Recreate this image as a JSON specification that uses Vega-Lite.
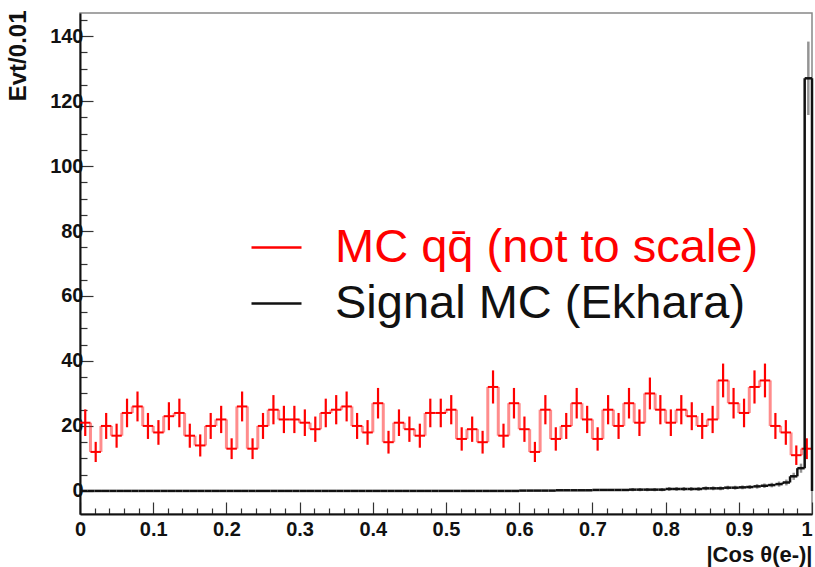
{
  "$schema": "https://vega.github.io/schema/vega-lite/v6.json",
  "width": 732,
  "height": 501,
  "autosize": "none",
  "padding": {"left": 80, "top": 13, "right": 3, "bottom": 53},
  "background": "white",
  "config": {
    "view": {"stroke": "#888888", "strokeWidth": 1.5},
    "font": "Liberation Sans"
  },
  "datasets": {
    "qq": [
      {"x0": 0, "x1": 0.0143, "n": 21, "err": 4.1},
      {"x0": 0.0143, "x1": 0.0286, "n": 12, "err": 3.1},
      {"x0": 0.0286, "x1": 0.0429, "n": 20, "err": 4.0},
      {"x0": 0.0429, "x1": 0.0571, "n": 17, "err": 3.7},
      {"x0": 0.0571, "x1": 0.0714, "n": 24, "err": 4.4},
      {"x0": 0.0714, "x1": 0.0857, "n": 26, "err": 4.6},
      {"x0": 0.0857, "x1": 0.1, "n": 20, "err": 4.0},
      {"x0": 0.1, "x1": 0.1143, "n": 18, "err": 3.8},
      {"x0": 0.1143, "x1": 0.1286, "n": 23, "err": 4.3},
      {"x0": 0.1286, "x1": 0.1429, "n": 24, "err": 4.4},
      {"x0": 0.1429, "x1": 0.1571, "n": 17, "err": 3.7},
      {"x0": 0.1571, "x1": 0.1714, "n": 14, "err": 3.4},
      {"x0": 0.1714, "x1": 0.1857, "n": 20, "err": 4.0},
      {"x0": 0.1857, "x1": 0.2, "n": 22, "err": 4.2},
      {"x0": 0.2, "x1": 0.2143, "n": 13, "err": 3.2},
      {"x0": 0.2143, "x1": 0.2286, "n": 26, "err": 4.6},
      {"x0": 0.2286, "x1": 0.2429, "n": 13, "err": 3.2},
      {"x0": 0.2429, "x1": 0.2571, "n": 20, "err": 4.0},
      {"x0": 0.2571, "x1": 0.2714, "n": 25, "err": 4.5},
      {"x0": 0.2714, "x1": 0.2857, "n": 22, "err": 4.2},
      {"x0": 0.2857, "x1": 0.3, "n": 22, "err": 4.2},
      {"x0": 0.3, "x1": 0.3143, "n": 21, "err": 4.1},
      {"x0": 0.3143, "x1": 0.3286, "n": 19, "err": 3.9},
      {"x0": 0.3286, "x1": 0.3429, "n": 24, "err": 4.4},
      {"x0": 0.3429, "x1": 0.3571, "n": 25, "err": 4.5},
      {"x0": 0.3571, "x1": 0.3714, "n": 26, "err": 4.6},
      {"x0": 0.3714, "x1": 0.3857, "n": 20, "err": 4.0},
      {"x0": 0.3857, "x1": 0.4, "n": 18, "err": 3.8},
      {"x0": 0.4, "x1": 0.4143, "n": 27, "err": 4.7},
      {"x0": 0.4143, "x1": 0.4286, "n": 15, "err": 3.5},
      {"x0": 0.4286, "x1": 0.4429, "n": 21, "err": 4.1},
      {"x0": 0.4429, "x1": 0.4571, "n": 19, "err": 3.9},
      {"x0": 0.4571, "x1": 0.4714, "n": 17, "err": 3.7},
      {"x0": 0.4714, "x1": 0.4857, "n": 24, "err": 4.4},
      {"x0": 0.4857, "x1": 0.5, "n": 24, "err": 4.4},
      {"x0": 0.5, "x1": 0.5143, "n": 25, "err": 4.5},
      {"x0": 0.5143, "x1": 0.5286, "n": 16, "err": 3.6},
      {"x0": 0.5286, "x1": 0.5429, "n": 19, "err": 3.9},
      {"x0": 0.5429, "x1": 0.5571, "n": 15, "err": 3.5},
      {"x0": 0.5571, "x1": 0.5714, "n": 32, "err": 5.1},
      {"x0": 0.5714, "x1": 0.5857, "n": 17, "err": 3.7},
      {"x0": 0.5857, "x1": 0.6, "n": 27, "err": 4.7},
      {"x0": 0.6, "x1": 0.6143, "n": 19, "err": 3.9},
      {"x0": 0.6143, "x1": 0.6286, "n": 12, "err": 3.1},
      {"x0": 0.6286, "x1": 0.6429, "n": 25, "err": 4.5},
      {"x0": 0.6429, "x1": 0.6571, "n": 16, "err": 3.6},
      {"x0": 0.6571, "x1": 0.6714, "n": 20, "err": 4.0},
      {"x0": 0.6714, "x1": 0.6857, "n": 27, "err": 4.7},
      {"x0": 0.6857, "x1": 0.7, "n": 22, "err": 4.2},
      {"x0": 0.7, "x1": 0.7143, "n": 16, "err": 3.6},
      {"x0": 0.7143, "x1": 0.7286, "n": 25, "err": 4.5},
      {"x0": 0.7286, "x1": 0.7429, "n": 20, "err": 4.0},
      {"x0": 0.7429, "x1": 0.7571, "n": 27, "err": 4.7},
      {"x0": 0.7571, "x1": 0.7714, "n": 21, "err": 4.1},
      {"x0": 0.7714, "x1": 0.7857, "n": 30, "err": 4.9},
      {"x0": 0.7857, "x1": 0.8, "n": 25, "err": 4.5},
      {"x0": 0.8, "x1": 0.8143, "n": 21, "err": 4.1},
      {"x0": 0.8143, "x1": 0.8286, "n": 25, "err": 4.5},
      {"x0": 0.8286, "x1": 0.8429, "n": 23, "err": 4.3},
      {"x0": 0.8429, "x1": 0.8571, "n": 20, "err": 4.0},
      {"x0": 0.8571, "x1": 0.8714, "n": 22, "err": 4.2},
      {"x0": 0.8714, "x1": 0.8857, "n": 34, "err": 5.2},
      {"x0": 0.8857, "x1": 0.9, "n": 27, "err": 4.7},
      {"x0": 0.9, "x1": 0.9143, "n": 24, "err": 4.4},
      {"x0": 0.9143, "x1": 0.9286, "n": 32, "err": 5.1},
      {"x0": 0.9286, "x1": 0.9429, "n": 34, "err": 5.2},
      {"x0": 0.9429, "x1": 0.9571, "n": 20, "err": 4.0},
      {"x0": 0.9571, "x1": 0.9714, "n": 18, "err": 3.8},
      {"x0": 0.9714, "x1": 0.9857, "n": 11, "err": 3.0},
      {"x0": 0.9857, "x1": 1, "n": 13, "err": 3.2}
    ],
    "sig": [
      {"x0": 0.00, "x1": 0.01, "n": 0, "err": 0},
      {"x0": 0.01, "x1": 0.02, "n": 0, "err": 0},
      {"x0": 0.02, "x1": 0.03, "n": 0, "err": 0},
      {"x0": 0.03, "x1": 0.04, "n": 0, "err": 0},
      {"x0": 0.04, "x1": 0.05, "n": 0, "err": 0},
      {"x0": 0.05, "x1": 0.06, "n": 0, "err": 0},
      {"x0": 0.06, "x1": 0.07, "n": 0, "err": 0},
      {"x0": 0.07, "x1": 0.08, "n": 0, "err": 0},
      {"x0": 0.08, "x1": 0.09, "n": 0, "err": 0},
      {"x0": 0.09, "x1": 0.10, "n": 0, "err": 0},
      {"x0": 0.10, "x1": 0.11, "n": 0, "err": 0},
      {"x0": 0.11, "x1": 0.12, "n": 0, "err": 0},
      {"x0": 0.12, "x1": 0.13, "n": 0, "err": 0},
      {"x0": 0.13, "x1": 0.14, "n": 0, "err": 0},
      {"x0": 0.14, "x1": 0.15, "n": 0, "err": 0},
      {"x0": 0.15, "x1": 0.16, "n": 0, "err": 0},
      {"x0": 0.16, "x1": 0.17, "n": 0, "err": 0},
      {"x0": 0.17, "x1": 0.18, "n": 0, "err": 0},
      {"x0": 0.18, "x1": 0.19, "n": 0, "err": 0},
      {"x0": 0.19, "x1": 0.20, "n": 0, "err": 0},
      {"x0": 0.20, "x1": 0.21, "n": 0, "err": 0},
      {"x0": 0.21, "x1": 0.22, "n": 0, "err": 0},
      {"x0": 0.22, "x1": 0.23, "n": 0, "err": 0},
      {"x0": 0.23, "x1": 0.24, "n": 0, "err": 0},
      {"x0": 0.24, "x1": 0.25, "n": 0, "err": 0},
      {"x0": 0.25, "x1": 0.26, "n": 0, "err": 0},
      {"x0": 0.26, "x1": 0.27, "n": 0, "err": 0},
      {"x0": 0.27, "x1": 0.28, "n": 0, "err": 0},
      {"x0": 0.28, "x1": 0.29, "n": 0, "err": 0},
      {"x0": 0.29, "x1": 0.30, "n": 0, "err": 0},
      {"x0": 0.30, "x1": 0.31, "n": 0, "err": 0},
      {"x0": 0.31, "x1": 0.32, "n": 0, "err": 0},
      {"x0": 0.32, "x1": 0.33, "n": 0, "err": 0},
      {"x0": 0.33, "x1": 0.34, "n": 0, "err": 0},
      {"x0": 0.34, "x1": 0.35, "n": 0, "err": 0},
      {"x0": 0.35, "x1": 0.36, "n": 0, "err": 0},
      {"x0": 0.36, "x1": 0.37, "n": 0, "err": 0},
      {"x0": 0.37, "x1": 0.38, "n": 0, "err": 0},
      {"x0": 0.38, "x1": 0.39, "n": 0, "err": 0},
      {"x0": 0.39, "x1": 0.40, "n": 0, "err": 0},
      {"x0": 0.40, "x1": 0.41, "n": 0, "err": 0},
      {"x0": 0.41, "x1": 0.42, "n": 0, "err": 0},
      {"x0": 0.42, "x1": 0.43, "n": 0, "err": 0},
      {"x0": 0.43, "x1": 0.44, "n": 0, "err": 0},
      {"x0": 0.44, "x1": 0.45, "n": 0, "err": 0},
      {"x0": 0.45, "x1": 0.46, "n": 0, "err": 0},
      {"x0": 0.46, "x1": 0.47, "n": 0, "err": 0},
      {"x0": 0.47, "x1": 0.48, "n": 0, "err": 0},
      {"x0": 0.48, "x1": 0.49, "n": 0, "err": 0},
      {"x0": 0.49, "x1": 0.50, "n": 0, "err": 0},
      {"x0": 0.50, "x1": 0.51, "n": 0, "err": 0},
      {"x0": 0.51, "x1": 0.52, "n": 0, "err": 0},
      {"x0": 0.52, "x1": 0.53, "n": 0, "err": 0},
      {"x0": 0.53, "x1": 0.54, "n": 0, "err": 0},
      {"x0": 0.54, "x1": 0.55, "n": 0, "err": 0},
      {"x0": 0.55, "x1": 0.56, "n": 0, "err": 0},
      {"x0": 0.56, "x1": 0.57, "n": 0, "err": 0},
      {"x0": 0.57, "x1": 0.58, "n": 0, "err": 0},
      {"x0": 0.58, "x1": 0.59, "n": 0, "err": 0},
      {"x0": 0.59, "x1": 0.60, "n": 0, "err": 0},
      {"x0": 0.60, "x1": 0.61, "n": 0.1, "err": 0},
      {"x0": 0.61, "x1": 0.62, "n": 0.1, "err": 0},
      {"x0": 0.62, "x1": 0.63, "n": 0.1, "err": 0},
      {"x0": 0.63, "x1": 0.64, "n": 0.1, "err": 0},
      {"x0": 0.64, "x1": 0.65, "n": 0.1, "err": 0},
      {"x0": 0.65, "x1": 0.66, "n": 0.2, "err": 0},
      {"x0": 0.66, "x1": 0.67, "n": 0.2, "err": 0},
      {"x0": 0.67, "x1": 0.68, "n": 0.2, "err": 0},
      {"x0": 0.68, "x1": 0.69, "n": 0.2, "err": 0},
      {"x0": 0.69, "x1": 0.70, "n": 0.2, "err": 0},
      {"x0": 0.70, "x1": 0.71, "n": 0.3, "err": 0},
      {"x0": 0.71, "x1": 0.72, "n": 0.3, "err": 0},
      {"x0": 0.72, "x1": 0.73, "n": 0.3, "err": 0},
      {"x0": 0.73, "x1": 0.74, "n": 0.3, "err": 0},
      {"x0": 0.74, "x1": 0.75, "n": 0.3, "err": 0},
      {"x0": 0.75, "x1": 0.76, "n": 0.4, "err": 0.5},
      {"x0": 0.76, "x1": 0.77, "n": 0.4, "err": 0.5},
      {"x0": 0.77, "x1": 0.78, "n": 0.4, "err": 0.5},
      {"x0": 0.78, "x1": 0.79, "n": 0.4, "err": 0.5},
      {"x0": 0.79, "x1": 0.80, "n": 0.4, "err": 0.5},
      {"x0": 0.80, "x1": 0.81, "n": 0.6, "err": 0.6},
      {"x0": 0.81, "x1": 0.82, "n": 0.6, "err": 0.6},
      {"x0": 0.82, "x1": 0.83, "n": 0.6, "err": 0.6},
      {"x0": 0.83, "x1": 0.84, "n": 0.6, "err": 0.6},
      {"x0": 0.84, "x1": 0.85, "n": 0.6, "err": 0.6},
      {"x0": 0.85, "x1": 0.86, "n": 0.8, "err": 0.6},
      {"x0": 0.86, "x1": 0.87, "n": 0.8, "err": 0.6},
      {"x0": 0.87, "x1": 0.88, "n": 0.8, "err": 0.6},
      {"x0": 0.88, "x1": 0.89, "n": 1.0, "err": 0.6},
      {"x0": 0.89, "x1": 0.90, "n": 1.0, "err": 0.6},
      {"x0": 0.90, "x1": 0.91, "n": 1.1, "err": 0.6},
      {"x0": 0.91, "x1": 0.92, "n": 1.2, "err": 0.6},
      {"x0": 0.92, "x1": 0.93, "n": 1.4, "err": 0.7},
      {"x0": 0.93, "x1": 0.94, "n": 1.6, "err": 0.7},
      {"x0": 0.94, "x1": 0.95, "n": 1.8, "err": 0.7},
      {"x0": 0.95, "x1": 0.96, "n": 2.1, "err": 0.8},
      {"x0": 0.96, "x1": 0.97, "n": 2.6, "err": 0.9},
      {"x0": 0.97, "x1": 0.98, "n": 4.5, "err": 1.1},
      {"x0": 0.98, "x1": 0.99, "n": 7, "err": 1.4},
      {"x0": 0.99, "x1": 1.00, "n": 127, "err": 11.3}
    ]
  },
  "encoding": {
    "x": {
      "type": "quantitative",
      "scale": {"domain": [0, 1], "nice": false, "zero": false},
      "axis": {
        "values": [0, 0.02, 0.04, 0.06, 0.08, 0.1, 0.12, 0.14, 0.16, 0.18, 0.2, 0.22, 0.24, 0.26, 0.28, 0.3, 0.32, 0.34, 0.36, 0.38, 0.4, 0.42, 0.44, 0.46, 0.48, 0.5, 0.52, 0.54, 0.56, 0.58, 0.6, 0.62, 0.64, 0.66, 0.68, 0.7, 0.72, 0.74, 0.76, 0.78, 0.8, 0.82, 0.84, 0.86, 0.88, 0.9, 0.92, 0.94, 0.96, 0.98, 1],
        "labelExpr": "abs(datum.value * 10 - round(datum.value * 10)) < 0.001 ? format(round(datum.value * 10) / 10, '~g') : ''",
        "tickSize": {"condition": {"test": "abs(datum.value * 10 - round(datum.value * 10)) < 0.001", "value": -12}, "value": -6},
        "tickColor": "#333333",
        "tickWidth": 1.2,
        "domainColor": "#111111",
        "domainWidth": 2,
        "grid": false,
        "labelFont": "Liberation Sans",
        "labelFontSize": 20,
        "labelFontWeight": "bold",
        "labelColor": "#111111",
        "labelPadding": 17,
        "labelAlign": {"condition": {"test": "datum.value == 1", "value": "right"}, "value": "center"},
        "labelFlush": false,
        "labelOverlap": false,
        "title": "|Cos θ(e-)|",
        "titleFont": "Liberation Sans",
        "titleFontSize": 22,
        "titleFontWeight": "bold",
        "titleColor": "#111111",
        "titleX": 732,
        "titleY": 40,
        "titleAlign": "right",
        "titleBaseline": "middle"
      }
    },
    "y": {
      "type": "quantitative",
      "scale": {"domain": [-7.1, 147.1], "nice": false, "zero": false},
      "axis": {
        "values": [0, 5, 10, 15, 20, 25, 30, 35, 40, 45, 50, 55, 60, 65, 70, 75, 80, 85, 90, 95, 100, 105, 110, 115, 120, 125, 130, 135, 140, 145],
        "labelExpr": "datum.value % 20 == 0 ? datum.value : ''",
        "tickSize": {"condition": {"test": "datum.value % 20 == 0", "value": -13}, "value": -7},
        "tickColor": "#333333",
        "tickWidth": 1.2,
        "domainColor": "#111111",
        "domainWidth": 2,
        "grid": false,
        "labelFont": "Liberation Sans",
        "labelFontSize": 20,
        "labelFontWeight": "bold",
        "labelColor": "#111111",
        "labelPadding": 10,
        "labelOverlap": false,
        "title": "Evt/0.01",
        "titleFont": "Liberation Sans",
        "titleFontSize": 24,
        "titleFontWeight": "bold",
        "titleColor": "#111111",
        "titleAngle": 270,
        "titleX": -62,
        "titleY": -3,
        "titleAlign": "right",
        "titleBaseline": "middle"
      }
    }
  },
  "layer": [
    {
      "data": {"name": "qq"},
      "transform": [
        {"window": [{"op": "lag", "field": "n", "as": "prev"}], "sort": [{"field": "x0"}]},
        {"filter": "datum.prev != null"}
      ],
      "mark": {"type": "rule", "strokeWidth": 3, "opacity": 0.45},
      "encoding": {
        "x": {"field": "x0"},
        "y": {"field": "prev"},
        "y2": {"field": "n"},
        "color": {"datum": "MC qq̄ (not to scale)"}
      }
    },
    {
      "data": {"name": "qq"},
      "mark": {"type": "rule", "strokeWidth": 2},
      "encoding": {
        "x": {"field": "x0"},
        "x2": {"field": "x1"},
        "y": {"field": "n"},
        "color": {
          "datum": "MC qq̄ (not to scale)",
          "scale": {"domain": ["MC qq̄ (not to scale)", "Signal MC (Ekhara)"], "range": ["#ff0000", "#111111"]},
          "legend": {
            "orient": "none",
            "legendX": 170,
            "legendY": 208,
            "title": null,
            "symbolType": "stroke",
            "symbolSize": 2500,
            "symbolStrokeWidth": 2.5,
            "labelFont": "Liberation Sans",
            "labelFontSize": 47,
            "labelLimit": 0,
            "labelOffset": 32,
            "rowPadding": 6,
            "encode": {"labels": {"update": {"fill": {"scale": "color", "field": "value"}}}}
          }
        }
      }
    },
    {
      "data": {"name": "qq"},
      "transform": [
        {"calculate": "(datum.x0 + datum.x1) / 2", "as": "xc"},
        {"calculate": "datum.n - datum.err", "as": "lo"},
        {"calculate": "datum.n + datum.err", "as": "hi"}
      ],
      "mark": {"type": "rule", "strokeWidth": 2.2},
      "encoding": {
        "x": {"field": "xc"},
        "y": {"field": "lo"},
        "y2": {"field": "hi"},
        "color": {"datum": "MC qq̄ (not to scale)"}
      }
    },
    {
      "data": {"name": "sig"},
      "transform": [
        {"filter": "datum.err > 0"},
        {"calculate": "(datum.x0 + datum.x1) / 2", "as": "xc"},
        {"calculate": "datum.n - datum.err", "as": "lo"},
        {"calculate": "datum.n + datum.err", "as": "hi"}
      ],
      "mark": {"type": "rule", "strokeWidth": 2.5, "opacity": 0.45},
      "encoding": {
        "x": {"field": "xc"},
        "y": {"field": "lo"},
        "y2": {"field": "hi"},
        "color": {"datum": "Signal MC (Ekhara)"}
      }
    },
    {
      "data": {"name": "sig"},
      "transform": [
        {"window": [{"op": "lag", "field": "n", "as": "prev"}], "sort": [{"field": "x0"}]},
        {"filter": "datum.prev != null"}
      ],
      "mark": {"type": "rule", "strokeWidth": 2.5},
      "encoding": {
        "x": {"field": "x0"},
        "y": {"field": "prev"},
        "y2": {"field": "n"},
        "color": {"datum": "Signal MC (Ekhara)"}
      }
    },
    {
      "data": {"name": "sig"},
      "transform": [
        {"window": [{"op": "lead", "field": "n", "as": "next"}], "sort": [{"field": "x0"}]},
        {"filter": "datum.next == null"}
      ],
      "mark": {"type": "rule", "strokeWidth": 2.5},
      "encoding": {
        "x": {"field": "x1"},
        "y": {"field": "n"},
        "y2": {"datum": 0},
        "color": {"datum": "Signal MC (Ekhara)"}
      }
    },
    {
      "data": {"name": "sig"},
      "mark": {"type": "rule", "strokeWidth": 2.5},
      "encoding": {
        "x": {"field": "x0"},
        "x2": {"field": "x1"},
        "y": {"field": "n"},
        "color": {"datum": "Signal MC (Ekhara)"}
      }
    }
  ]
}
